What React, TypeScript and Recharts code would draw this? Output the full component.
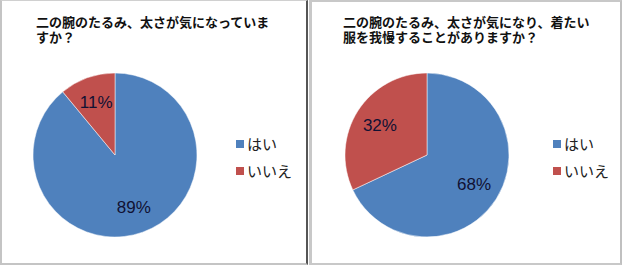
import React from "react";
import { PieChart, Pie, Cell } from "recharts";

const categories = ["はい", "いいえ"];
const colors = ["#4F81BD", "#C0504D"];
const chart1Values = [89, 11];
const chart2Values = [68, 32];
const chart1Title = ["二の腕のたるみ、太さが気になっていま", "すか？"];
const chart2Title = ["二の腕のたるみ、太さが気になり、着たい", "服を我慢することがありますか？"];

const build = (vals: number[]) => categories.map((name, i) => ({ name, value: vals[i] }));

const RAD = Math.PI / 180;
const renderLabel = (props: any) => {
  const { cx, cy, midAngle, outerRadius, value } = props;
  const r = outerRadius * 0.68;
  const x = cx + r * Math.cos(-midAngle * RAD);
  const y = cy + r * Math.sin(-midAngle * RAD);
  return (
    <text
      x={x}
      y={y}
      fill="#111133"
      fontSize={17}
      fontFamily="'Liberation Sans', Arial, sans-serif"
      textAnchor="middle"
      dominantBaseline="central"
    >
      {value}%
    </text>
  );
};

const Panel = ({ values, title, left, width, legendX, cxOff, border }: any) => (
  <div
    style={{
      position: "absolute",
      left,
      top: 0,
      width,
      height: 265,
      boxSizing: "border-box",
      ...border,
    }}
  >
    <div style={{ position: "absolute", left: -border.leftW, top: -border.topW, width, height: 265 }}>
      <PieChart width={width} height={265} margin={{ top: 0, right: 0, bottom: 0, left: 0 }}>
        <Pie
          data={build(values)}
          dataKey="value"
          nameKey="name"
          cx={cxOff}
          cy={155}
          outerRadius={82}
          startAngle={90}
          endAngle={-270}
          stroke="#ffffff"
          strokeWidth={0.5}
          label={renderLabel}
          labelLine={false}
          isAnimationActive={false}
        >
          {values.map((_: number, i: number) => (
            <Cell key={i} fill={colors[i]} />
          ))}
        </Pie>
      </PieChart>
      <div style={{ position: "absolute", left: legendX, top: 130 }}>
        {categories.map((c, i) => (
          <div key={i} style={{ display: "flex", alignItems: "center", height: 27 }}>
            <span
              style={{ width: 8, height: 8, background: colors[i], display: "inline-block", marginRight: 3 }}
            />
            <span
              lang="ja"
              style={{
                fontSize: 15,
                lineHeight: "18px",
                color: "#222",
                fontFamily: "'Noto Sans CJK JP', sans-serif",
              }}
            >
              {c}
            </span>
          </div>
        ))}
      </div>
      <div
        lang="ja"
        style={{
          position: "absolute",
          left: title.x,
          top: 15,
          fontSize: 13,
          lineHeight: "15px",
          fontWeight: 700,
          color: "#111",
          fontFamily: "'Liberation Sans', 'Noto Sans CJK JP', sans-serif",
          whiteSpace: "nowrap",
        }}
      >
        {title.lines.map((l: string, i: number) => (
          <div key={i} style={{ height: 15 }}>
            {l}
          </div>
        ))}
      </div>
    </div>
  </div>
);

export default function App() {
  return (
    <div style={{ position: "absolute", left: 0, top: 0, width: 622, height: 265, background: "#fff" }}>
      <Panel
        values={chart1Values}
        title={{ x: 36, lines: chart1Title }}
        left={0}
        width={308}
        legendX={236}
        cxOff={115}
        border={{
          leftW: 2,
          topW: 1,
          borderLeft: "2px solid #c4c4c4",
          borderTop: "1px solid #d0d0d0",
          borderBottom: "2px solid #c4c4c4",
          borderRight: "2px solid #555",
        }}
      />
      <Panel
        values={chart2Values}
        title={{ x: 34, lines: chart2Title }}
        left={309}
        width={313}
        legendX={244}
        cxOff={118}
        border={{
          leftW: 3,
          topW: 2,
          borderLeft: "3px solid #c8c8c8",
          borderTop: "2px solid #c8c8c8",
          borderBottom: "2px solid #c8c8c8",
          borderRight: "2px solid #c0c0c0",
        }}
      />
    </div>
  );
}
